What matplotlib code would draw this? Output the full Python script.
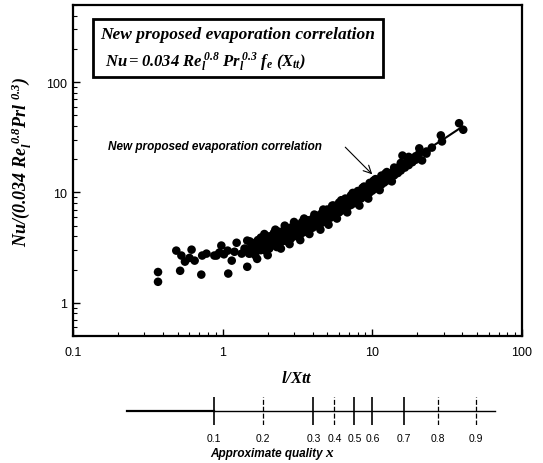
import matplotlib
matplotlib.use("Agg")
import matplotlib.pyplot as plt
from matplotlib.patches import Rectangle

plt.rcParams['font.family'] = ['Liberation Sans', 'DejaVu Sans']
plt.rcParams['mathtext.fontset'] = 'custom'
plt.rcParams['mathtext.rm'] = 'Liberation Serif:bold:italic'
plt.rcParams['mathtext.it'] = 'Liberation Serif:bold:italic'
plt.rcParams['mathtext.bf'] = 'Liberation Serif:bold:italic'

# ---- data ----
sparse_x = [0.37, 0.37, 0.49, 0.62, 0.52, 0.53, 0.56, 0.60, 0.65, 0.73, 0.72, 0.78, 0.88, 0.98,
            0.91, 0.95, 1.02, 1.09, 1.08, 1.15, 1.20, 1.24, 1.34, 1.40, 1.46, 1.46, 1.50]
sparse_y = [1.9, 1.55, 2.97, 3.03, 1.95, 2.68, 2.36, 2.55, 2.41, 2.68, 1.80, 2.79, 2.68, 3.30,
            2.68, 2.85, 2.75, 1.84, 2.97, 2.41, 2.9, 3.50, 2.79, 3.1, 3.66, 2.12, 2.79]

band_x = [1.52, 1.52, 1.52, 1.58, 1.58, 1.65, 1.65, 1.65, 1.72, 1.72, 1.80, 1.80, 1.80,
          1.88, 1.88, 1.95, 1.95, 1.95, 2.05, 2.05, 2.05, 2.12, 2.12, 2.2, 2.2, 2.2,
          2.3, 2.3, 2.3, 2.4, 2.4, 2.4, 2.5, 2.5,
          2.6, 2.6, 2.6, 2.7, 2.7, 2.7, 2.85, 2.85, 2.85, 3.0, 3.0, 3.0, 3.1, 3.1,
          3.25, 3.25, 3.25, 3.4, 3.4, 3.4, 3.55, 3.55, 3.7, 3.7, 3.7, 3.85, 3.85, 4.0, 4.0, 4.0,
          4.2, 4.2, 4.2, 4.4, 4.4, 4.6, 4.6, 4.6, 4.8, 4.8, 5.0, 5.0, 5.0, 5.25, 5.25,
          5.5, 5.5, 5.5, 5.75, 5.75, 6.0, 6.0, 6.0, 6.3, 6.3, 6.6, 6.6, 6.6, 6.9, 6.9,
          7.2, 7.2, 7.2, 7.6, 7.6, 8.0, 8.0, 8.0, 8.4, 8.4, 8.8, 8.8, 8.8, 9.2, 9.2,
          9.6, 9.6, 9.6, 10.0, 10.0, 10.5, 10.5, 10.5, 11.0, 11.0, 11.5, 11.5, 11.5, 12.0, 12.0,
          12.5, 12.5, 12.5, 13.2, 13.2, 14.0, 14.0, 14.0, 14.8, 14.8, 15.5, 15.5, 15.5,
          15.9, 16.5, 16.5, 17.5, 17.5, 17.5, 18.5, 18.5, 19.5, 19.5,
          20.6, 20.6, 21.5, 23.0, 23.0, 25.0, 28.7, 29.2, 38.0, 40.5,
          1.7, 1.9, 2.0, 2.25, 2.45, 2.6, 2.8, 3.0, 3.3, 3.5, 3.8, 4.1, 4.5, 4.7,
          5.1, 5.4, 5.8, 6.2, 6.8, 7.4, 8.2, 8.6, 9.4, 10.2, 11.2, 12.2, 13.5, 15.0]
band_y = [3.6, 2.8, 3.1, 3.3, 2.9, 3.5, 3.0, 2.7, 3.2, 3.7, 3.4, 3.0, 3.9,
          3.6, 3.2, 3.3, 3.8, 2.95, 3.5, 4.0, 3.1, 3.7, 3.3, 3.9, 3.4, 4.3,
          3.6, 4.0, 3.2, 3.8, 4.4, 3.5, 4.1, 3.6,
          4.3, 3.8, 4.6, 4.0, 4.5, 3.6, 4.2, 4.8, 3.8, 4.4, 4.0, 5.0, 4.6, 4.2,
          4.5, 5.1, 4.0, 4.7, 4.3, 5.4, 4.9, 4.4, 5.0, 4.6, 5.6, 5.2, 4.7, 5.3, 4.8, 5.8,
          5.5, 5.0, 6.2, 5.7, 5.2, 5.9, 5.3, 6.5, 6.1, 5.5, 6.3, 5.7, 7.0, 6.5, 5.9,
          6.8, 6.1, 7.6, 7.1, 6.4, 7.3, 6.6, 8.1, 7.6, 6.9, 7.9, 7.2, 8.8, 8.2, 7.5,
          8.5, 7.7, 9.4, 8.9, 8.0, 9.3, 8.4, 10.3, 9.7, 8.8, 10.2, 9.2, 11.3, 10.6, 9.6,
          11.1, 10.0, 12.2, 11.5, 10.4, 12.0, 10.9, 13.2, 12.5, 11.4, 13.0, 11.8, 14.2, 13.5, 12.3,
          14.0, 12.8, 15.3, 14.8, 13.5, 15.8, 14.3, 16.8, 16.5, 15.0, 17.5, 15.8, 18.5,
          21.6, 18.4, 16.8, 19.6, 17.7, 21.0, 20.3, 18.8, 21.3, 19.8,
          25.1, 22.6, 19.5, 23.5, 22.5, 25.5, 32.9, 29.0, 42.4, 37.0,
          2.5, 4.2, 2.7, 4.6, 3.1, 5.0, 3.4, 5.4, 3.7, 5.8, 4.2, 6.3, 4.6, 7.0,
          5.1, 7.6, 5.8, 8.5, 6.6, 9.9, 7.6, 11.0, 8.8, 12.8, 10.5, 14.8, 12.6, 16.9]

corr_x = [1.5, 2, 3, 4, 5, 7, 10, 15, 20, 30, 40]
corr_y = [3.1, 3.5, 4.3, 5.2, 6.1, 8.0, 11.1, 16.5, 21.5, 30.5, 39.5]

quality_labels = ['0.1', '0.2', '0.3', '0.4', '0.5', '0.6', '0.7', '0.8', '0.9']
quality_pos = [0.871, 1.85, 4.04, 5.58, 7.59, 10.0, 16.3, 27.5, 49.4]  # equivalent 1/Xtt
quality_dashed = [False, True, False, True, False, False, False, True, True]
quality_line = [0.229, 66.0]

# ---- figure ----
fig = plt.figure(figsize=(5.43, 4.64), dpi=100)
ax = fig.add_axes([0.1344, 0.2737, 0.8269, 0.7134])
ax.set_xscale('log')
ax.set_yscale('log')
ax.set_xlim(0.1, 100)
ax.set_ylim(0.5, 500)

ax.plot(corr_x, corr_y, color='black', lw=1.5, zorder=2)
ax.scatter(sparse_x, sparse_y, s=38, color='black', edgecolors='none', zorder=3)
ax.scatter(band_x, band_y, s=38, color='black', edgecolors='none', zorder=3)

for sp in ax.spines.values():
    sp.set_linewidth(1.6)
ax.tick_params(which='both', direction='in', top=False, right=False, labelsize=9)
ax.tick_params(which='major', length=5, width=1)
ax.tick_params(which='minor', length=3, width=0.8)
ax.set_xticks([0.1, 1, 10, 100])
ax.set_xticklabels(['0.1', '1', '10', '100'])
ax.set_yticks([1, 10, 100])
ax.set_yticklabels(['1', '10', '100'])
ax.tick_params(axis='x', pad=7)
ax.tick_params(axis='y', pad=4)

ax.set_xlabel(r'$l/Xtt$', fontsize=12, labelpad=8)
ax.set_ylabel(r'$Nu/(0.034\ Re_l^{\ 0.8}Prl^{\ 0.3})$', fontsize=13, labelpad=5)
ax.yaxis.set_label_coords(-0.088, 0.53)

# title box
ax.add_patch(Rectangle((0.0445, 0.782), 0.6455, 0.176, transform=ax.transAxes,
                       fill=False, lw=2, edgecolor='black', zorder=4))
ax.text(0.060, 0.912, 'New proposed evaporation correlation', transform=ax.transAxes,
        family='Liberation Serif', fontweight='bold', style='italic', fontsize=12.5,
        ha='left', va='center')
ax.text(0.071, 0.831, r'$Nu = 0.034\ Re_l^{\,0.8}\ Pr_l^{\,0.3}\ f_e\ (X_{tt})$',
        transform=ax.transAxes, fontsize=12, ha='left', va='center')

# annotation
ax.text(0.171, 26.2, 'New proposed evaporation correlation', fontsize=8.5,
        fontweight='bold', style='italic', ha='left', va='center')
ax.annotate('', xy=(10.3, 14.0), xytext=(6.4, 26.8),
            arrowprops=dict(arrowstyle='->', lw=0.8, color='black', mutation_scale=14))

# quality scale
ax2 = fig.add_axes([0.1344, 0.0819, 0.8269, 0.0603])
ax2.set_xscale('log')
ax2.set_xlim(0.1, 100)
ax2.set_ylim(0, 1)
ax2.axis('off')
ax2.plot([quality_line[0], quality_pos[0]], [0.5, 0.5], color='black', lw=1.6)
ax2.plot([quality_pos[0], quality_line[1]], [0.5, 0.5], color='black', lw=1.0)
for pos, lab, dsh in zip(quality_pos, quality_labels, quality_dashed):
    ax2.plot([pos, pos], [0, 1], color='black', lw=0.9 if dsh else 1.2,
             ls=(0, (4, 1.5)) if dsh else '-')
    ax2.text(pos, -0.45, lab, fontsize=7.5, ha='center', va='center')
fig.text(210 / 543, 0.022, 'Approximate quality', fontsize=8.5, fontweight='bold',
         style='italic', ha='left', va='center')
fig.text(330 / 543, 0.022, r'$x$', fontsize=11, ha='center', va='center',
         family='Liberation Serif')

fig.savefig('out.png', dpi=100)
